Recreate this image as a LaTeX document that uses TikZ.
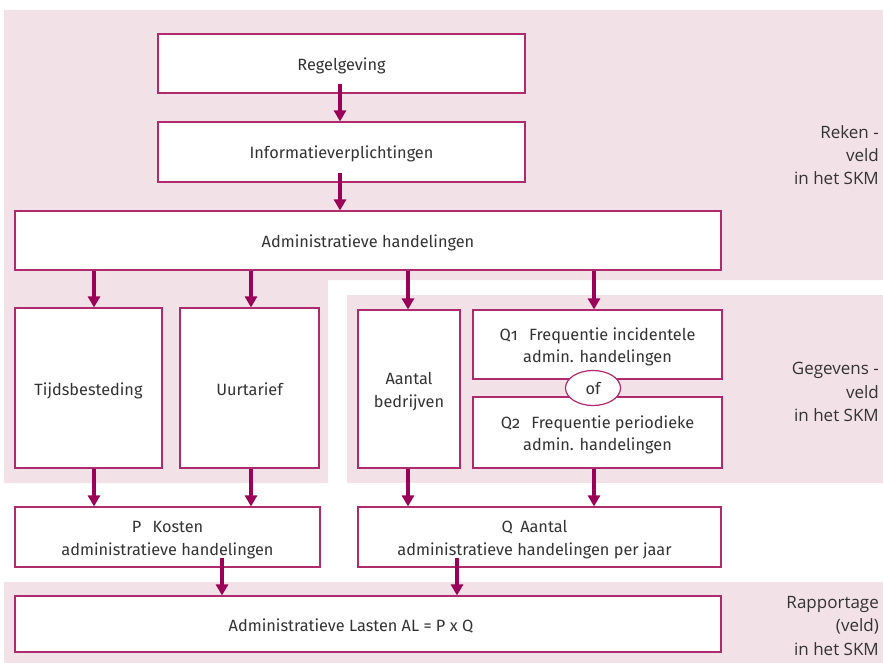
\documentclass[tikz,border=0pt]{standalone}
\usepackage{fontspec}
\setmainfont{Fira Sans}[Numbers=OldStyle]
\newfontfamily\labelfont{Open Sans}
\usetikzlibrary{arrows.meta,shapes.geometric,calc}

\definecolor{bgpink}{HTML}{F2E1E7}
\definecolor{frame}{HTML}{B02A6E}
\definecolor{arrowc}{HTML}{9B0058}
\definecolor{txt}{HTML}{333333}

% centred lines of box text, set a little below the geometric centre
\newcommand{\boxlines}[1]{\raisebox{-2.5pt}[\height][\depth]{\begin{tabular}{@{}c@{}}#1\end{tabular}}}

\tikzset{
  box/.style={draw=frame, line width=1.2pt, fill=white, inner sep=0pt,
    text=txt, font=\fontsize{16.3}{22.5}\selectfont},
  orbox/.style={ellipse, draw=frame, line width=1.2pt, fill=white, inner sep=0pt,
    minimum width=55pt, minimum height=35pt, text=txt,
    font=\fontsize{16.3}{22}\selectfont},
  arr/.style={draw=arrowc, line width=3.8pt, -{Triangle[width=12pt,length=11pt]}},
  fieldlabel/.style={anchor=east, align=right, text=txt, inner sep=0pt,
    font=\labelfont\fontsize{17}{23.3}\selectfont}
}

\begin{document}
\begin{tikzpicture}[x=1pt,y=-1pt]
  \useasboundingbox (0,0) rectangle (883,663);

  % shaded fields
  \fill[bgpink] (4,10) -- (883,10) -- (883,280) -- (328,280) -- (328,483) -- (4,483) -- cycle;
  \fill[bgpink] (347,295) rectangle (883,483);
  \fill[bgpink] (4,582) rectangle (883,663);

  % boxes
  \node[box, minimum width=367pt, minimum height=59pt] (reg) at (341.5,63.5) {\boxlines{Regelgeving}};
  \node[box, minimum width=367pt, minimum height=60pt] (info) at (341.5,152) {\boxlines{Informatieverplichtingen}};
  \node[box, minimum width=706pt, minimum height=59pt] (adm) at (368,240.5) {\boxlines{Administratieve handelingen}};

  \node[box, minimum width=147pt, minimum height=160pt] (tijd) at (88.5,388) {\boxlines{Tijdsbesteding}};
  \node[box, minimum width=139pt, minimum height=160pt] (uur) at (249.5,388) {\boxlines{Uurtarief}};
  \node[box, minimum width=102pt, minimum height=158pt] (aant) at (409,389) {\boxlines{Aantal\\bedrijven}};
  \node[box, minimum width=249pt, minimum height=69pt] (qone) at (597.5,344.5)
    {\boxlines{Q1\hspace{0.7em}Frequentie incidentele\\admin. handelingen}};
  \node[box, minimum width=249pt, minimum height=71pt] (qtwo) at (597.5,432.5)
    {\boxlines{Q2\hspace{0.7em}Frequentie periodieke\\admin. handelingen}};
  \node[orbox] (of) at (593,388) {of};

  \node[box, minimum width=305pt, minimum height=60pt] (p) at (167.5,537)
    {\boxlines{P\hspace{0.7em}Kosten\\administratieve handelingen}};
  \node[box, minimum width=363pt, minimum height=60pt] (q) at (539.5,537)
    {\boxlines{Q\hspace{0.45em}Aantal\\administratieve handelingen per jaar}\hspace*{10pt}};
  \node[box, minimum width=706pt, minimum height=56pt] (al) at (368,624)
    {\boxlines{Administratieve Lasten AL = P x Q}\hspace*{34pt}};

  % connectors
  \draw[arr] ($(reg.south -| 340,0)+(0,-10)$) -- (info.north -| 340,0);
  \draw[arr] ($(info.south -| 340,0)+(0,-10)$) -- (adm.north -| 340,0);
  \draw[arr] (adm.south -| 94,0) -- (tijd.north -| 94,0);
  \draw[arr] (adm.south -| 251,0) -- (uur.north -| 251,0);
  \draw[arr] (adm.south -| 408,0) -- (aant.north -| 408,0);
  \draw[arr] (adm.south -| 594,0) -- (qone.north -| 594,0);
  \draw[arr] (tijd.south -| 94,0) -- (p.north -| 94,0);
  \draw[arr] (uur.south -| 251,0) -- (p.north -| 251,0);
  \draw[arr] (aant.south -| 408,0) -- (q.north -| 408,0);
  \draw[arr] (qtwo.south -| 594,0) -- (q.north -| 594,0);
  \draw[arr] ($(p.south -| 222,0)+(0,-10)$) -- (al.north -| 222,0);
  \draw[arr] ($(q.south -| 457,0)+(0,-10)$) -- (al.north -| 457,0);

  % field labels
  \node[fieldlabel] (lreken) at (879,155) {Reken -\\veld\\in het SKM};
  \node[fieldlabel] (lgeg) at (879,392) {Gegevens -\\veld\\in het SKM};
  \node[fieldlabel] (lrap) at (879,626) {Rapportage\\(veld)\\in het SKM};
\end{tikzpicture}
\end{document}
